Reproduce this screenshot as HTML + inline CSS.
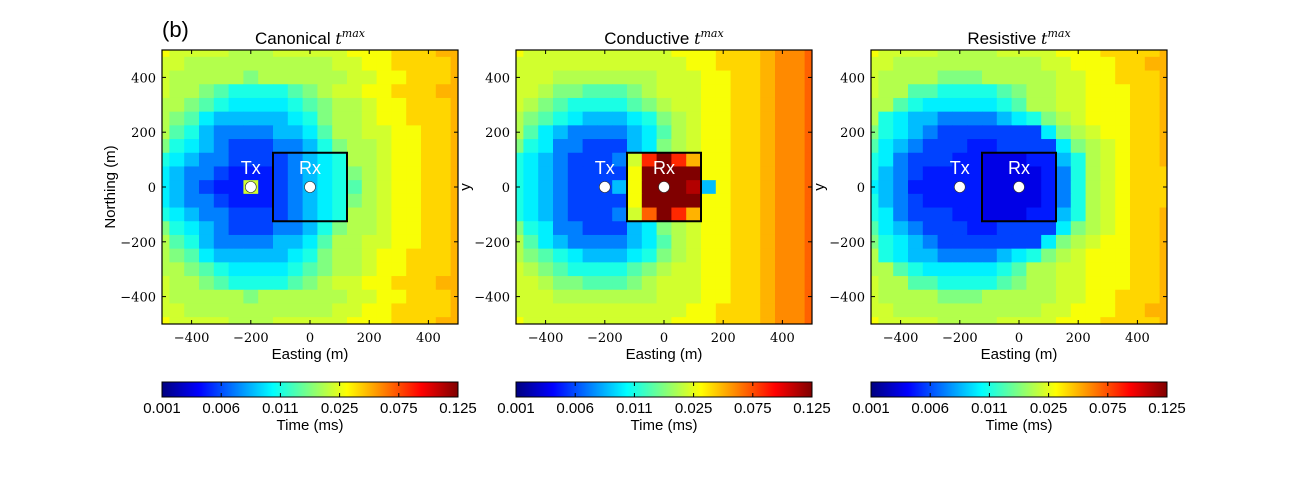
<!DOCTYPE html>
<html><head><meta charset="utf-8"><style>
html,body{margin:0;padding:0;background:#fff;}
svg{display:block;font-family:"Liberation Sans",sans-serif;}
</style></head><body>
<svg id="fig" width="1296" height="504" viewBox="0 0 1296 504" xmlns="http://www.w3.org/2000/svg">
<text x="162" y="37" font-size="22">(b)</text>
</svg>
<script>
// Colorbar tick labels (ms) — evenly spaced on the bar
const cbTicks = [0.001, 0.006, 0.011, 0.025, 0.075, 0.125];
const cbTickLabels = ["0.001","0.006","0.011","0.025","0.075","0.125"];
const axisTicks = [-400, -200, 0, 200, 400];
const axisTickLabels = ["\u2212400","\u2212200","0","200","400"];
const cellCenters = [-500,-450,-400,-350,-300,-250,-200,-150,-100,-50,0,50,100,150,200,250,300,350,400,450,500];
// level codes -> time (ms)
const levelCodes = ["0","1","2","3","4","5","6","7","8","9","a","b","c","d","e","f","g","h","i"];
const levelTimes = [0.0035,0.00475,0.00575,0.00725,0.00875,0.0100,0.0110,0.0149,0.0180,0.0215,0.0236,0.0295,0.0412,0.050,0.060,0.070,0.084,0.1125,0.125];
const txPos = [-200, 0];
const rxPos = [0, 0];
const rxBox = [-125, 125, -125, 125];
const canonicalGrid = [
"baaaa999aaaaabbbcccdd",
"aa9999999999aabbccccd",
"a999998999999aabbcccd",
"a99876666789aabbcccd".padEnd(21,"d"),
"998765555678 99abbcccd".replace(" ",""),
"987544444568 99abbcccd".replace(" ",""),
"976433334457 99aabbccd".replace(" ",""),
"865432223346899abbccd",
"654332222345699abbccd",
"543321112345689abbccd",
"54321 1a123456 79abbccd".replace(/ /g,""),
"543321112345689abbccd",
"654332222345699abbccd",
"865432223346899abbccd",
"976433334457 99aabbccd".replace(" ",""),
"987544444568 99abbcccd".replace(" ",""),
"998765555678 99abbcccd".replace(" ",""),
"a99876666789aabbcccdd",
"a999998999999aabbcccd",
"aa9999999999aabbccccd",
"baaaa999aaaaabbbcccdd"
];
const conductiveGrid = [
"baaaaaaaaaabbbcccdeef",
"aaaaaaaaaaaabbcccdeef",
"aaa9999999aaabbccdeef",
"aa988777 89aaabbccdeef".replace(" ",""),
"a98766667 89aabbccdeef".replace(" ",""),
"987654445689abbccdeef",
"975433334579abbccdeef",
"865332224589abbccdeef",
"65432223agigdbbccdeef",
"65432222biiiibbccdeef",
"65432224biiih4bccdeef",
"65432222biiiibbccdeef",
"65432223afigdbbccdeef",
"865332224589abbccdeef",
"975433334579abbccdeef",
"987654445689abbccdeef",
"a98766667 89aabbccdeef".replace(" ",""),
"aa988777 89aaabbccdeef".replace(" ",""),
"aaa9999999aaabbccdeef",
"aaaaaaaaaaaabbcccdeef",
"baaaaaaaaaabbbcccdeef"
];
const resistiveGrid = [
"baaaa9999aaaabbbccccd",
"aa999999999 9aabbbccdd".replace(" ",""),
"a99998889999 9aabbcccd".replace(" ",""),
"a997766667899aabbbccd",
"997655555679 9aabbbccd".replace(" ",""),
"965443333456 89abbbccd".replace(" ",""),
"865432222222 589abbccd".replace(" ",""),
"754322211222 258 9abccd".replace(/ /g,""),
"6532221100011469abccd",
"6432111100001369abccc",
"5431111100001369abccc",
"6432111100001369abccc",
"6532221100011469abccd",
"754322211222 258 9abccd".replace(/ /g,""),
"865432222222 589abbccd".replace(" ",""),
"965443333456 89abbbccd".replace(" ",""),
"997655555679 9aabbbccd".replace(" ",""),
"a997766667899aabbbccd",
"a99998889999 9aabbcccd".replace(" ",""),
"aa999999999 9aabbbccdd".replace(" ",""),
"baaaa9999aaaabbbccccd"
];

const NS="http://www.w3.org/2000/svg";
const svg=document.getElementById("fig");
function mk(tag,attrs,parent){const e=document.createElementNS(NS,tag);for(const k in attrs)e.setAttribute(k,attrs[k]);(parent||svg).appendChild(e);return e;}
function clamp(v){return Math.max(0,Math.min(1,v));}
function jet(p){const r=clamp(1.5-Math.abs(4*p-3)),g=clamp(1.5-Math.abs(4*p-2)),b=clamp(1.5-Math.abs(4*p-1));
 return "rgb("+Math.round(r*255)+","+Math.round(g*255)+","+Math.round(b*255)+")";}
function norm(t){ // piecewise-linear between evenly spaced colorbar ticks
 const n=cbTicks.length-1;
 if(t<=cbTicks[0])return 0; if(t>=cbTicks[n])return 1;
 for(let i=0;i<n;i++){if(t<=cbTicks[i+1])return (i+(t-cbTicks[i])/(cbTicks[i+1]-cbTicks[i]))/n;}
 return 1;}
function timeOf(code){const i=levelCodes.indexOf(code);return levelTimes[i<0?0:i];}

const panels=[
 {name:"canonical",title:"Canonical ",x0:162,grid:canonicalGrid,ylab:"Northing (m)"},
 {name:"conductive",title:"Conductive ",x0:516,grid:conductiveGrid,ylab:null},
 {name:"resistive",title:"Resistive ",x0:871,grid:resistiveGrid,ylab:null}
];
const W=296,Y0=50,H=274;
panels.forEach((P,pi)=>{
 const g=mk("g",{});
 
 
 const sx=v=>P.x0+(v+500)/1000*W;
 const sy=v=>Y0+(500-v)/1000*H;
 P.grid.forEach((row,ri)=>{
  const yc=cellCenters[cellCenters.length-1-ri];
  for(let ci=0;ci<cellCenters.length;ci++){
   const xc=cellCenters[ci];
   const xa=Math.max(-500,xc-25),xb=Math.min(500,xc+25);
   const ya=Math.min(500,yc+25),yb=Math.max(-500,yc-25);
   const c=mk("rect",{x:sx(xa),y:sy(ya),width:sx(xb)-sx(xa)+0.5,height:sy(yb)-sy(ya)+0.5,fill:jet(norm(timeOf(row[ci]||"a")))},g);
   
   
  }
 });
 // Rx box
 const bx=mk("rect",{x:sx(rxBox[0]),y:sy(rxBox[3]),width:sx(rxBox[1])-sx(rxBox[0]),height:sy(rxBox[2])-sy(rxBox[3]),fill:"none",stroke:"#000","stroke-width":2},g);
 
 
 [[txPos,"Tx"],[rxPos,"Rx"]].forEach(([pos,lab])=>{
  const d=mk("circle",{cx:sx(pos[0]),cy:sy(pos[1]),r:5.5,fill:"#fff",stroke:"#333","stroke-width":0.6},g);
  
  
  const t=mk("text",{x:sx(pos[0]),y:sy(pos[1])-13,"font-size":18,fill:"#fff","text-anchor":"middle"},g);
  t.textContent=lab;
  
  
 });
 // frame
 const fr=mk("rect",{x:P.x0,y:Y0,width:W,height:H,fill:"none",stroke:"#000","stroke-width":1.2},g);
 
 
 axisTicks.forEach((v,i)=>{
  mk("line",{x1:sx(v),x2:sx(v),y1:Y0+H,y2:Y0+H-4,stroke:"#000"},g);
  mk("line",{x1:sx(v),x2:sx(v),y1:Y0,y2:Y0+4,stroke:"#000"},g);
  mk("line",{x1:P.x0,x2:P.x0+4,y1:sy(v),y2:sy(v),stroke:"#000"},g);
  mk("line",{x1:P.x0+W,x2:P.x0+W-4,y1:sy(v),y2:sy(v),stroke:"#000"},g);
  const tx=mk("text",{x:sx(v),y:Y0+H+18,"font-size":13,"text-anchor":"middle","font-family":"DejaVu Serif, Liberation Serif, serif"},g);
  tx.textContent=axisTickLabels[i];
  
  
  const ty=mk("text",{x:P.x0-6,y:sy(v)+5,"font-size":13,"text-anchor":"end","font-family":"DejaVu Serif, Liberation Serif, serif"},g);
  ty.textContent=axisTickLabels[i];
  
  
 });
 const ti=mk("text",{x:P.x0+W/2,y:44,"font-size":17,"text-anchor":"middle"},g);
 ti.innerHTML=P.title+'<tspan font-family="DejaVu Serif, Liberation Serif, serif" font-style="italic" font-size="16">t</tspan><tspan font-family="DejaVu Serif, Liberation Serif, serif" font-style="italic" font-size="11" dy="-7">max</tspan>';
 
 
 const xl=mk("text",{x:P.x0+W/2,y:359,"font-size":15,"text-anchor":"middle"},g);
 xl.textContent="Easting (m)";
 
 
 if(P.ylab){
  const yl=mk("text",{x:0,y:0,"font-size":15,"text-anchor":"middle",transform:"translate(115,187) rotate(-90)"},g);
  yl.textContent=P.ylab;
  
  
 }
 if(pi<2){
  const yy=mk("text",{x:0,y:0,"font-size":15,"text-anchor":"middle",transform:"translate("+(P.x0+W+12)+",187) rotate(-90)"},g);
  yy.textContent="y";
  
  
 }
 // colorbar
 const gid="jetgrad"+pi;
 const defs=mk("defs",{},g);
 const lg=mk("linearGradient",{id:gid,x1:0,x2:1,y1:0,y2:0},defs);
 [[0,"#00007f"],[0.125,"#0000ff"],[0.375,"#00ffff"],[0.625,"#ffff00"],[0.875,"#ff0000"],[1,"#7f0000"]].forEach(s=>mk("stop",{offset:s[0],"stop-color":s[1]},lg));
 const cb=mk("rect",{x:P.x0,y:382,width:W,height:15,fill:"url(#"+gid+")",stroke:"#000","stroke-width":1},g);
 
 
 cbTicks.forEach((t,i)=>{
  const x=P.x0+norm(t)*W;
  if(i>0&&i<cbTicks.length-1){mk("line",{x1:x,x2:x,y1:397,y2:393,stroke:"#000"},g);mk("line",{x1:x,x2:x,y1:382,y2:386,stroke:"#000"},g);}
  const tl=mk("text",{x:x,y:413,"font-size":15,"text-anchor":"middle"},g);
  tl.textContent=cbTickLabels[i];
  
  
 });
 const cl=mk("text",{x:P.x0+W/2,y:430,"font-size":15,"text-anchor":"middle"},g);
 cl.textContent="Time (ms)";
 
 
});
</script>
</body></html>
